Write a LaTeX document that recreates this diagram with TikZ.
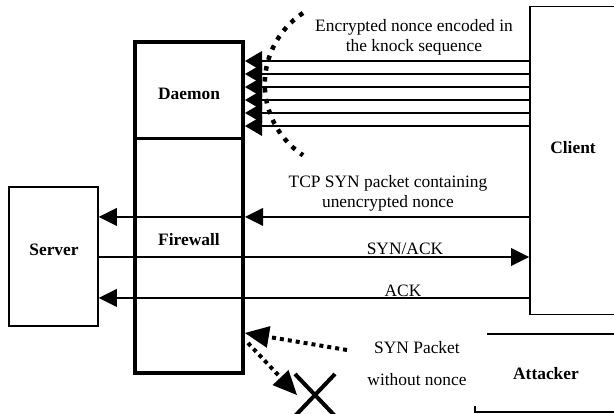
\documentclass[tikz,border=0pt]{standalone}
\usepackage{fontspec}
\setmainfont{Liberation Serif}
\usetikzlibrary{arrows.meta,shapes.misc}
\begin{document}
\begin{tikzpicture}[x=1pt,y=-1pt,
  font=\fontsize{17.4}{20}\selectfont,
  thin/.style={line width=1.5pt},
  arr/.style={thin,-{Triangle[length=18pt,width=18pt,line width=0pt]}},
  knock/.style={thin,-{Triangle[length=17pt,width=20pt,line width=0pt]}},
  box/.style={draw,thin,inner sep=0pt},
  dotarr/.style={line width=4pt,dash pattern=on 4pt off 4pt,-{Triangle[length=24pt,width=22pt,line width=0pt]}},
  arcdots/.style={line width=4.5pt,dash pattern=on 4.5pt off 6.5pt},
  lbl/.style={inner sep=0pt,align=center},
  bold/.style={inner sep=0pt,font=\fontsize{17.4}{20}\selectfont\bfseries}]
\useasboundingbox (0,0) rectangle (614,414);
\clip (0,0) rectangle (614,414);

% firewall / daemon
\node[draw,line width=4pt,inner sep=0pt,minimum width=108pt,minimum height=331pt] (fw) at (189,207.5) {};
\draw[line width=3pt] (135,139) -- (243,139);
\node[bold] (daemon) at (189,94) {Daemon};
\node[bold] (fwtxt) at (189,240) {Firewall};

% server
\node[box,minimum width=89pt,minimum height=139pt] (server) at (53.5,256.5) {};
\node[bold] (servertxt) at (54,250) {Server};

% client
\node[box,anchor=north west,minimum width=100pt,minimum height=308pt] (client) at (529,6) {};
\node[bold] (clienttxt) at (573,148) {Client};

% knock sequence
\foreach \yy in {61,74,87,100,113,126}
  \draw[knock] (client.west |- 0,\yy) -- (fw.east |- 0,\yy);
\draw[arcdots] (303,13) arc[start angle=123.5,end angle=236.5,radius=85.3pt];
\node[lbl] (enc) at (414,37) {Encrypted nonce encoded in\\the knock sequence};

% TCP SYN
\draw[arr] (client.west |- 0,217) -- (fw.east |- 0,217);
\draw[arr] (fw.east |- 0,217) -- (server.east |- 0,217);
\node[lbl] (tcp) at (388,193) {TCP SYN packet containing\\unencrypted nonce};

% SYN/ACK
\draw[arr] (server.east |- 0,257) -- (client.west |- 0,257);
\node[inner sep=0pt,anchor=base] (synack) at (405,255) {SYN/ACK};

% ACK
\draw[arr] (client.west |- 0,298) -- (server.east |- 0,298);
\node[inner sep=0pt,anchor=base] (ack) at (403,297) {ACK};

% attacker
\draw[thin] (487,334) -- (614,334);
\draw[line width=2pt] (475,406) -- (475,412) -- (616,412);
\node[bold] (attacker) at (546,374) {Attacker};
\node[lbl] (synpkt) at (417,364) {SYN Packet\\[12pt]without nonce};

% rejected SYN
\coordinate (synsrc) at (347,350);
\coordinate (hit) at (245,333);
\coordinate (bounce) at (248,343);
\coordinate (xend) at (297,395);
\draw[dotarr] (synsrc) -- (hit);
\draw[dotarr] (bounce) -- (xend);
\node[cross out,draw,line width=4pt,inner sep=0pt,minimum width=36pt,minimum height=38pt] (xmark) at (315,395) {};
\end{tikzpicture}
\end{document}
